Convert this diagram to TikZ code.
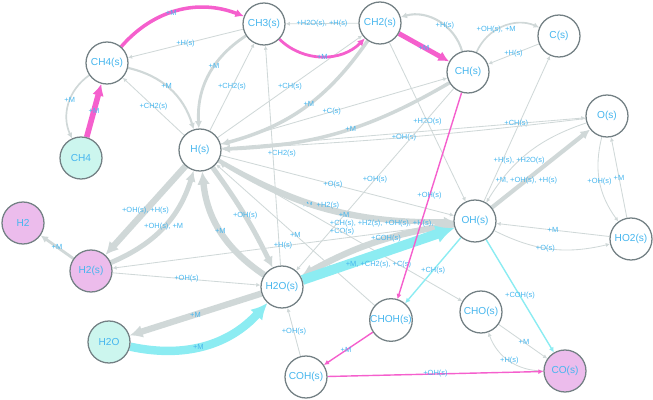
\documentclass[tikz,border=0pt]{standalone}
\usepackage{fontspec}
\setmainfont{Liberation Sans}
\usepackage{tikz}
\usetikzlibrary{arrows.meta,backgrounds}
\definecolor{nodegray}{RGB}{115,128,132}
\definecolor{lblue}{RGB}{70,182,238}
\definecolor{edgegray}{RGB}{208,216,216}
\definecolor{hotpink}{RGB}{245,95,205}
\definecolor{coolcyan}{RGB}{140,236,242}
\definecolor{gasfill}{RGB}{204,246,238}
\definecolor{pinkfill}{RGB}{236,188,236}
\tikzset{
  species/.style={circle, draw=nodegray, line width=0.9pt, fill=white, minimum size=1.05cm,
    inner sep=0pt, text=lblue, font=\fontsize{7.2}{8}\selectfont},
  gasnode/.style={species, fill=gasfill},
  pinknode/.style={species, fill=pinkfill},
  rxn/.style={draw=edgegray, line width=0.6pt, -{Latex[length=2pt 1.6, width=2pt 1.6]}},
  medrxn/.style={rxn, line width=2pt},
  bigrxn/.style={rxn, line width=4.5pt},
  hot/.style={rxn, draw=hotpink},
  cold/.style={rxn, draw=coolcyan},
  lbl/.style={font=\fontsize{5.3}{6}\selectfont, text=lblue, inner sep=0.5pt}
}
\begin{document}
\begin{tikzpicture}[x=0.025cm, y=0.025cm]
  \useasboundingbox (0,0) rectangle (653,-400);

  % species
  \node[species] (ch4s) at (107,-63) {CH4(s)};
  \node[gasnode] (ch4) at (81,-158) {CH4};
  \node[species] (ch3s) at (264,-24) {CH3(s)};
  \node[species] (ch2s) at (380,-23) {CH2(s)};
  \node[species] (chs) at (468,-72) {CH(s)};
  \node[species] (cs) at (559,-36) {C(s)};
  \node[species] (hs) at (200,-150) {H(s)};
  \node[species] (os) at (607,-116) {O(s)};
  \node[species] (ohs) at (475,-221) {OH(s)};
  \node[species] (ho2s) at (631,-239) {HO2(s)};
  \node[pinknode] (h2) at (23,-223) {H2};
  \node[pinknode] (h2s) at (91,-271) {H2(s)};
  \node[species] (h2os) at (282,-287) {H2O(s)};
  \node[gasnode] (h2o) at (109,-342) {H2O};
  \node[species] (chohs) at (391,-320) {CHOH(s)};
  \node[species] (chos) at (481,-312) {CHO(s)};
  \node[species] (cohs) at (306,-377) {COH(s)};
  \node[pinknode] (cos) at (565,-371) {CO(s)};

  \begin{scope}[on background layer]
    % grey reactions
    \draw[rxn, line width=1.2pt] (ch4s) to[bend right=40] node[lbl, pos=0.45] {+M} (ch4);
    \draw[rxn] (ch3s) -- node[lbl] {+H(s)} (ch4s);
    \draw[medrxn, line width=1.5pt] (ch4s) to[bend left=30] node[lbl, pos=0.45] {+M} (hs);
    \draw[rxn] (hs) -- node[lbl] {+CH2(s)} (ch4s);
    \draw[medrxn] (ch3s) to[bend right=30] node[lbl, pos=0.4] {+M} (hs);
    \draw[rxn] (hs) -- node[lbl] {+CH2(s)} (ch3s);
    \draw[rxn] (ch2s) -- node[lbl] {+H2O(s), +H(s)} (ch3s);
    \draw[medrxn, line width=2.5pt] (ch2s) to[bend left=20] node[lbl, pos=0.47] {+M} (hs);
    \draw[rxn] (hs) -- node[lbl] {+CH(s)} (ch2s);
    \draw[rxn] (hs) -- node[lbl, pos=0.49] {+C(s)} (chs);
    \draw[medrxn, line width=2.5pt] (chs) to[bend left=14] node[lbl, pos=0.45] {+M} (hs);
    \draw[rxn, line width=1.5pt] (chs) to[bend right=45] node[lbl, pos=0.4] {+H(s)} (ch2s);
    \draw[rxn, line width=1.2pt] (chs) to[bend left=45] node[lbl, pos=0.4] {+OH(s), +M} (cs);
    \draw[rxn] (cs) -- node[lbl] {+H(s)} (chs);
    \draw[rxn] (ohs) -- (cs);
    \draw[rxn] (hs) -- node[lbl, pos=0.81] {+CH(s)} (os);
    \draw[rxn] (os) to[bend left=2] node[lbl, pos=0.5] {+OH(s)}
      node[lbl, pos=0.85, below=2pt] {+CH2(s)} (hs);
    \draw[rxn] (ch2s) -- node[lbl] {+H2O(s)} (ohs);
    \draw[rxn] (chs) -- node[lbl] {+OH(s)} (h2os);
    \draw[rxn] (h2os) -- (ch3s);
    \draw[rxn] (hs) -- node[lbl, pos=0.48] {+O(s)} (ohs);
    \draw[bigrxn, line width=3pt] (hs) to[bend right=15] node[lbl, pos=0.45] {+M, +H2(s)} (ohs);
    \draw[medrxn] (ohs) to[bend left=17] node[lbl, pos=0.44] {+M} (hs);
    \draw[bigrxn] (ohs) to[bend right=10]
      node[lbl, pos=0.45, align=left, above=1pt] {+CH(s), +H2(s), +OH(s), +H(s),\\+CO(s)}
      node[lbl, pos=0.42] {+COH(s)} (h2os);
    \draw[medrxn, line width=3pt] (ohs) -- node[lbl, pos=0.35] {+M, +OH(s), +H(s)} (os);
    \draw[rxn] (os) to[bend right=20] node[lbl, pos=0.6] {+H(s), +H2O(s)} (ohs);
    \draw[rxn] (os) to[bend right=25] node[lbl] {+OH(s)} (ho2s);
    \draw[rxn] (ho2s) -- node[lbl] {+M} (os);
    \draw[rxn] (ho2s) -- node[lbl] {+M} (ohs);
    \draw[rxn] (ohs) to[bend right=20] node[lbl, pos=0.45] {+O(s)} (ho2s);
    \draw[rxn] (chohs) -- node[lbl] {+M} (hs);
    \draw[rxn] (hs) -- (chos);
    \draw[bigrxn] (hs) -- node[lbl] {+OH(s), +H(s)} (h2s);
    \draw[bigrxn, line width=3.5pt] (h2s) to[bend right=25] node[lbl] {+OH(s), +M} (hs);
    \draw[bigrxn, line width=3.5pt] (hs) to[bend left=5] node[lbl] {+OH(s)} (h2os);
    \draw[bigrxn] (h2os) to[bend left=25] node[lbl] {+M} (hs);
    \draw[rxn, line width=2pt] (h2s) -- node[lbl] {+M} (h2);
    \draw[rxn] (h2s) -- node[lbl] {+OH(s)} (h2os);
    \draw[rxn] (ohs) -- node[lbl] {+H(s)} (h2s);
    \draw[bigrxn] (h2os) -- node[lbl] {+M} (h2o);
    \draw[rxn] (cohs) -- node[lbl] {+OH(s)} (h2os);
    \draw[rxn] (chos) -- node[lbl, pos=0.52] {+M} (cos);
    \draw[rxn] (cos) to[bend left=35] node[lbl] {+H(s)} (chos);
    % cyan reactions
    \draw[cold, line width=6pt] (h2o) to[bend right=30] node[lbl, pos=0.45] {+M} (h2os);
    \draw[cold, line width=7pt] (h2os) -- node[lbl, pos=0.5, below=1pt] {+M, +CH2(s), +C(s)} (ohs);
    \draw[cold, line width=1pt] (ohs) -- node[lbl] {+CH(s)} (chohs);
    \draw[cold, line width=1pt] (ohs) -- node[lbl] {+COH(s)} (cos);
    % pink reactions
    \draw[hot, line width=2.5pt] (ch4s) to[bend left=35] node[lbl, pos=0.45] {+M} (ch3s);
    \draw[hot, line width=2pt] (ch3s) to[bend right=45] node[lbl] {+M} (ch2s);
    \draw[hot, line width=3.5pt] (ch2s) -- node[lbl] {+M} (chs);
    \draw[hot, line width=4pt] (ch4) -- node[lbl] {+M} (ch4s);
    \draw[hot, line width=1pt] (chs) -- node[lbl] {+OH(s)} (chohs);
    \draw[hot, line width=1pt] (chohs) -- node[lbl, pos=0.55] {+M} (cohs);
    \draw[hot, line width=1pt] (cohs) -- node[lbl] {+OH(s)} (cos);
  \end{scope}
\end{tikzpicture}
\end{document}
